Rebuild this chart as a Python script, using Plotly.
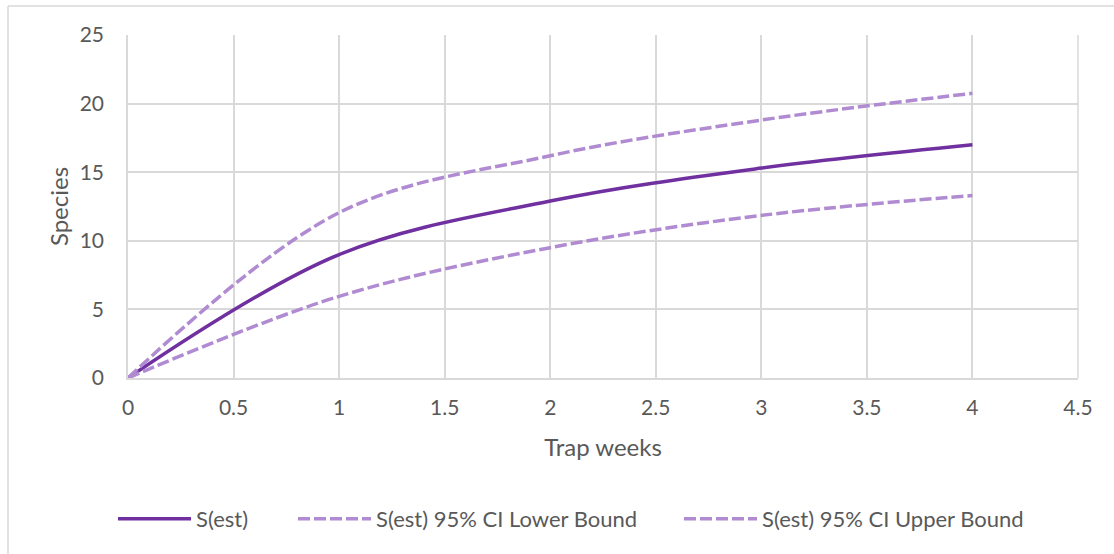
import plotly.graph_objects as go

# Species accumulation over trap weeks
trap_weeks = [0, 1, 2, 3, 4]
s_est = [0, 9.0, 12.9, 15.3, 17.0]
ci_lower = [0, 5.95, 9.5, 11.85, 13.3]
ci_upper = [0, 12.05, 16.2, 18.8, 20.75]

x_ticks = [0, 0.5, 1, 1.5, 2, 2.5, 3, 3.5, 4, 4.5]
y_ticks = [0, 5, 10, 15, 20, 25]

W, H = 1114, 554
L, R, T, B = 128, 36, 35, 176

FONT = "Lato, 'Open Sans', sans-serif"
TXT = "#595959"
GRID = "#d9d9d9"
DARK = "#7030a0"
LIGHT = "#b08bd2"

pw = W - L - R
ph = H - T - B


def px_x(p):
    return (p - L) / pw


def px_y(p):
    return (H - B - p) / ph


fig = go.Figure()
fig.add_trace(go.Scatter(x=trap_weeks, y=s_est, name="S(est)", mode="lines", legend="legend",
                         line=dict(color=DARK, width=3.5, shape="spline", smoothing=1)))
fig.add_trace(go.Scatter(x=trap_weeks, y=ci_lower, name="S(est) 95% CI Lower Bound", mode="lines",
                         legend="legend2",
                         line=dict(color=LIGHT, width=3.5, dash="12px,4px", shape="spline", smoothing=1)))
fig.add_trace(go.Scatter(x=trap_weeks, y=ci_upper, name="S(est) 95% CI Upper Bound", mode="lines",
                         legend="legend3",
                         line=dict(color=LIGHT, width=3.5, dash="12px,4px", shape="spline", smoothing=1)))

# outer chart frame (top and left edges)
fig.add_shape(type="line", xref="paper", yref="paper", x0=px_x(8), x1=px_x(W + 5),
              y0=px_y(6), y1=px_y(6), line=dict(color=GRID, width=1.5))
fig.add_shape(type="line", xref="paper", yref="paper", x0=px_x(8), x1=px_x(8),
              y0=px_y(6), y1=px_y(H + 5), line=dict(color=GRID, width=1.5))
# right border of the plot area
fig.add_shape(type="line", xref="paper", yref="paper", x0=1, x1=1, y0=0, y1=1,
              line=dict(color=GRID, width=1.5))

leg_common = dict(orientation="h", yanchor="middle", y=px_y(519), xanchor="left",
                  font=dict(size=22, color=TXT), itemwidth=73, bgcolor="rgba(0,0,0,0)")

fig.update_layout(
    width=W, height=H,
    margin=dict(l=L, r=R, t=T, b=B),
    paper_bgcolor="white", plot_bgcolor="white",
    font=dict(family=FONT, color=TXT, size=20),
    showlegend=True,
    legend=dict(x=px_x(113), **leg_common),
    legend2=dict(x=px_x(293), **leg_common),
    legend3=dict(x=px_x(679), **leg_common),
    xaxis=dict(range=[0, 4.5], tickvals=x_ticks, ticktext=[str(v) for v in x_ticks],
               showgrid=True, gridcolor=GRID, gridwidth=1.5, zeroline=False,
               showline=True, linecolor=GRID, linewidth=1.5,
               ticks="", ticklabelstandoff=10,
               tickfont=dict(size=21, color=TXT),
               title=dict(text="Trap weeks", font=dict(size=24, color=TXT), standoff=21)),
    yaxis=dict(range=[0, 25], tickvals=y_ticks,
               showgrid=True, gridcolor=GRID, gridwidth=1.5, zeroline=False,
               showline=True, linecolor=GRID, linewidth=1.5,
               ticks="", ticklabelstandoff=18,
               tickfont=dict(size=21, color=TXT),
               title=dict(text="Species", font=dict(size=24, color=TXT), standoff=4)),
)

fig.write_html("out.html")
